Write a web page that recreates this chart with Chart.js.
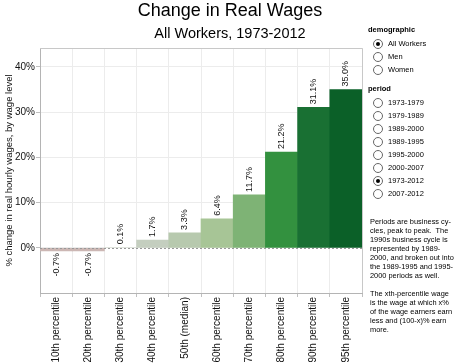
<!DOCTYPE html>
<html>
<head>
<meta charset="utf-8">
<script src="https://cdn.jsdelivr.net/npm/chart.js@4"></script>
<style>
  body { margin: 0; background: #fff; font-family: "Liberation Sans", Arial, sans-serif; }
  #wrap { position: relative; width: 463px; height: 364px; overflow: hidden; }
  #chart { position: absolute; left: 0; top: 0; }
  .title { position: absolute; left: 0; width: 460px; text-align: center; color: #000; white-space: nowrap; }
  #t1 { top: 0px; font-size: 18px; }
  #t2 { top: 25px; font-size: 14.5px; }
  #side { position: absolute; left: 368px; top: 0; width: 95px; font-size: 7.5px; color: #000; }
  .head { position: absolute; left: 0; font-weight: bold; font-size: 7.5px; }
  .opt { position: absolute; left: 5px; height: 12px; line-height: 12px; white-space: nowrap; }
  .dot { position: absolute; left: 0; top: 1px; width: 8px; height: 8px; border: 1px solid #666; border-radius: 50%; background: #fff; }
  .dot.on::after { content: ""; position: absolute; left: 2px; top: 2px; width: 4px; height: 4px; border-radius: 50%; background: #000; }
  .lbl { position: absolute; left: 15px; top: 0; }
  .note { position: absolute; left: 2px; width: 92px; line-height: 9px; font-size: 7.4px; }
</style>
</head>
<body>
<div id="wrap">
  <canvas id="chart" width="463" height="364"></canvas>
  <div class="title" id="t1">Change in Real Wages</div>
  <div class="title" id="t2">All Workers, 1973-2012</div>
  <div id="side"></div>
</div>
<script>
// categories and values
const percentiles = ['10th percentile', '20th percentile', '30th percentile', '40th percentile', '50th (median)',
                     '60th percentile', '70th percentile', '80th percentile', '90th percentile', '95th percentile'];
const wageChange = [-0.7, -0.7, 0.1, 1.7, 3.3, 6.4, 11.7, 21.2, 31.1, 35.0];
const barColors = ['#ccb7b4', '#ccb7b4', '#dbe0d7', '#c4cebf', '#b7c9ae', '#a7c596', '#7eb375', '#33913f', '#197033', '#0b6028'];
const yTicks = [0, 10, 20, 30, 40];

const demographics = ['All Workers', 'Men', 'Women'];
const periods = ['1973-1979', '1979-1989', '1989-2000', '1989-1995', '1995-2000', '2000-2007', '1973-2012', '2007-2012'];
const notes = [
    ['Periods are business cy-', 'cles, peak to peak.&nbsp; The', '1990s business cycle is', 'represented by 1989-',
     '2000, and broken out into', 'the 1989-1995 and 1995-', '2000 periods as well.'],
    ['The xth-percentile wage', 'is the wage at which x%', 'of the wage earners earn', 'less and (100-x)% earn', 'more.']
];

// right hand panel (filter controls + notes)
const side = document.getElementById('side');
let html = '<div class="head" style="top:25px">demographic</div>';
demographics.forEach((d, i) => {
    html += `<div class="opt" style="top:${38 + i * 13}px"><span class="dot${i === 0 ? ' on' : ''}"></span><span class="lbl">${d}</span></div>`;
});
html += '<div class="head" style="top:84px">period</div>';
periods.forEach((p, i) => {
    html += `<div class="opt" style="top:${97 + i * 13}px"><span class="dot${p === '1973-2012' ? ' on' : ''}"></span><span class="lbl">${p}</span></div>`;
});
html += `<div class="note" style="top:217px">${notes[0].join('<br>')}</div>`;
html += `<div class="note" style="top:289px">${notes[1].join('<br>')}</div>`;
side.innerHTML = html;

// rotated value labels + dotted zero line + frame
const extras = {
    id: 'extras',
    afterDatasetsDraw(chart) {
        const ctx = chart.ctx;
        const area = chart.chartArea;
        const y0 = chart.scales.y.getPixelForValue(0);
        ctx.save();
        ctx.strokeStyle = '#c8c8c8';
        ctx.lineWidth = 1;
        ctx.beginPath();
        ctx.moveTo(area.left, area.top + 0.5);
        ctx.lineTo(area.right + 0.5, area.top + 0.5);
        ctx.lineTo(area.right + 0.5, area.bottom);
        ctx.stroke();
        ctx.strokeStyle = '#999';
        ctx.setLineDash([2, 2]);
        ctx.beginPath();
        ctx.moveTo(area.left, Math.round(y0) + 0.5);
        ctx.lineTo(area.right, Math.round(y0) + 0.5);
        ctx.stroke();
        ctx.setLineDash([]);

        ctx.fillStyle = '#111';
        ctx.font = '9px "Liberation Sans", Arial, sans-serif';
        ctx.textBaseline = 'middle';
        chart.getDatasetMeta(0).data.forEach((bar, i) => {
            const v = wageChange[i];
            ctx.save();
            if (v >= 0) {
                ctx.translate(bar.x, bar.y - 3);
                ctx.rotate(-Math.PI / 2);
                ctx.textAlign = 'left';
            } else {
                ctx.translate(bar.x, bar.y + 2);
                ctx.rotate(-Math.PI / 2);
                ctx.textAlign = 'right';
            }
            ctx.fillText(v.toFixed(1) + '%', 0, 0);
            ctx.restore();
        });
        ctx.restore();
    }
};

const ctx = document.getElementById('chart').getContext('2d');
const wageChart = new Chart(ctx, {
    type: 'bar',
    data: {
        labels: percentiles,
        datasets: [{
            data: wageChange,
            backgroundColor: barColors,
            borderWidth: 0,
            barPercentage: 1,
            categoryPercentage: 1
        }]
    },
    options: {
        responsive: false,
        animation: false,
        layout: { padding: { top: 48, right: 101, left: 0, bottom: 0 } },
        plugins: {
            legend: { display: false },
            tooltip: { enabled: false }
        },
        scales: {
            x: {
                afterFit: (scale) => { scale.height = 71; },
                grid: { color: '#ececec', tickColor: '#c0c0c0', tickLength: 4, offset: true },
                border: { color: '#b4b4b4' },
                ticks: {
                    color: '#111',
                    padding: 0,
                    minRotation: 90,
                    maxRotation: 90,
                    font: { size: 10, family: '"Liberation Sans", Arial, sans-serif' }
                }
            },
            y: {
                min: -10,
                max: 44.2,
                afterFit: (scale) => { scale.width = 40; },
                afterBuildTicks: (scale) => { scale.ticks = [-10].concat(yTicks).map(v => ({ value: v })); },
                grid: {
                    color: (c) => c.tick && c.tick.value < 0 ? 'rgba(0,0,0,0)' : '#ececec',
                    tickColor: (c) => c.tick && c.tick.value < 0 ? 'rgba(0,0,0,0)' : '#c0c0c0',
                    tickLength: 4
                },
                border: { color: '#b4b4b4' },
                ticks: {
                    color: '#111',
                    padding: 1,
                    font: { size: 10, family: '"Liberation Sans", Arial, sans-serif' },
                    callback: (v) => v < 0 ? '' : v + '%'
                },
                title: {
                    display: true,
                    text: '% change in real hourly wages, by wage level',
                    color: '#111',
                    padding: 4,
                    font: { size: 9.5, family: '"Liberation Sans", Arial, sans-serif' }
                }
            }
        }
    },
    plugins: [extras]
});
</script>
</body>
</html>
